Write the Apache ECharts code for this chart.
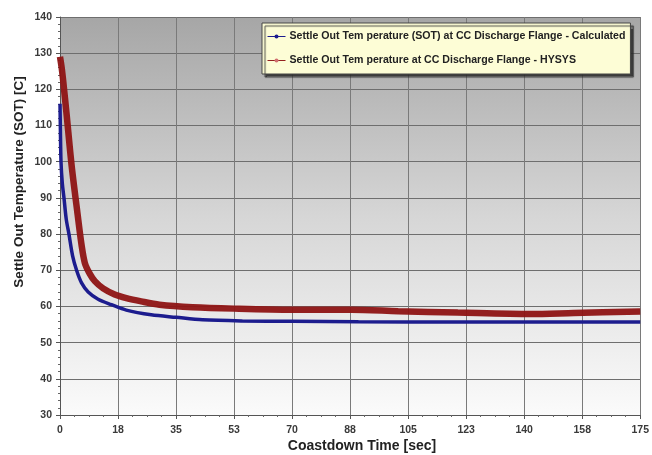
<!DOCTYPE html>
<html>
<head>
<meta charset="utf-8">
<script src="https://cdn.jsdelivr.net/npm/echarts@6/dist/echarts.min.js"></script>
<style>
html,body{margin:0;padding:0;background:#fff;}
#c{width:652px;height:455px;}
</style>
</head>
<body>
<div id="c"></div>
<script>
// ---- data ----
const seriesNames = [
  'Settle Out Tem perature (SOT) at CC Discharge Flange - Calculated',
  'Settle Out Tem perature at CC Discharge Flange - HYSYS'
];
const calcTime = [0, 0.1, 0.3, 0.7, 1.2, 1.9, 2.7, 3.8, 5, 6.5, 8.5, 11.5, 15.5, 20, 27.5, 35, 43, 55, 70, 90, 120, 150, 175];
const calcTemp = [116, 110, 100, 94, 90, 84, 80, 74, 70, 66.5, 64, 62, 60.5, 59, 57.7, 57, 56.3, 56, 55.9, 55.8, 55.7, 55.7, 55.7];
const hysysTime = [0, 0.5, 1, 2, 3.5, 5.3, 6.5, 7.5, 9, 10.5, 13, 16.5, 20, 24.5, 30, 40, 52.5, 70, 88, 102, 120, 142, 155, 175];
const hysysTemp = [129, 126, 122, 113, 99, 85.5, 77, 72, 69, 67, 65, 63.3, 62.3, 61.4, 60.5, 59.8, 59.4, 59.1, 59.1, 58.7, 58.3, 57.9, 58.2, 58.6];
const xTicks = {min: 0, max: 175, interval: 17.5};
const yTicks = {min: 30, max: 140, interval: 10};
const xTitle = 'Coastdown Time [sec]';
const yTitle = 'Settle Out Temperature (SOT) [C]';

const pair = (t, v) => t.map((x, i) => [x, v[i]]);

const chart = echarts.init(document.getElementById('c'), null, {renderer: 'canvas'});
const font = '"Liberation Sans", Arial, sans-serif';
chart.setOption({
  animation: false,
  backgroundColor: '#ffffff',
  grid: {
    left: 60, right: 9, top: 17, bottom: 40,
    show: true,
    borderWidth: 0,
    backgroundColor: new echarts.graphic.LinearGradient(0, 0, 0, 1, [
      {offset: 0, color: '#a6a6a6'},
      {offset: 0.5, color: '#d6d6d6'},
      {offset: 1, color: '#fbfbfb'}
    ])
  },
  xAxis: {
    type: 'value',
    min: xTicks.min, max: xTicks.max, interval: xTicks.interval,
    axisLine: {show: true, lineStyle: {color: '#555', width: 1}},
    axisTick: {show: true, length: 4, lineStyle: {color: '#555'}},
    minorTick: {show: true, splitNumber: 4, length: 2, lineStyle: {color: '#666'}},
    splitLine: {show: true, lineStyle: {color: '#7a7a7a', width: 1}},
    axisLabel: {
      color: '#3a3a3a', fontFamily: font, fontWeight: 'bold', fontSize: 10.5, margin: 10,
      formatter: v => String(Math.round(v))
    }
  },
  yAxis: {
    type: 'value',
    min: yTicks.min, max: yTicks.max, interval: yTicks.interval,
    axisLine: {show: true, lineStyle: {color: '#555', width: 1}},
    axisTick: {show: true, length: 4, lineStyle: {color: '#555'}},
    minorTick: {show: true, splitNumber: 5, length: 2, lineStyle: {color: '#666'}},
    splitLine: {show: true, lineStyle: {color: '#6e6e6e', width: 1}},
    axisLabel: {color: '#3a3a3a', fontFamily: font, fontWeight: 'bold', fontSize: 10.5, margin: 8}
  },
  legend: {
    orient: 'vertical',
    left: 262, top: 23,
    padding: [8, 5, 8, 5],
    itemGap: 13,
    itemWidth: 18, itemHeight: 5,
    lineStyle: {width: 1},
    backgroundColor: '#fdfdd6',
    borderColor: '#444', borderWidth: 1,
    shadowColor: 'rgba(40,40,40,0.85)', shadowOffsetX: 3, shadowOffsetY: 3, shadowBlur: 1,
    textStyle: {fontFamily: font, fontWeight: 'bold', fontSize: 10.6, color: '#222', padding: [0, 0, 0, -1]},
    data: seriesNames
  },
  series: [
    {
      name: seriesNames[0], type: 'line', data: pair(calcTime, calcTemp),
      smooth: 0.3, showSymbol: false, symbol: 'circle', symbolSize: 3,
      itemStyle: {color: '#1c1c8e'},
      lineStyle: {color: '#1c1c8e', width: 3.5}, z: 3
    },
    {
      name: seriesNames[1], type: 'line', data: pair(hysysTime, hysysTemp),
      smooth: 0.3, showSymbol: false, symbol: 'circle', symbolSize: 3,
      itemStyle: {color: '#d07070'},
      lineStyle: {color: '#8e1414', width: 6.5, opacity: 0.95}, z: 2
    }
  ],
  graphic: [
    {
      type: 'text', x: 362, y: 446,
      style: {text: xTitle, fontFamily: font, fontWeight: 'bold', fontSize: 14, fill: '#222',
        align: 'center', verticalAlign: 'middle'}
    },
    {
      type: 'text', x: 19, y: 182, rotation: Math.PI / 2,
      style: {text: yTitle, fontFamily: font, fontWeight: 'bold', fontSize: 13.5, fill: '#222',
        align: 'center', verticalAlign: 'middle'}
    }
  ]
});
</script>
</body>
</html>
